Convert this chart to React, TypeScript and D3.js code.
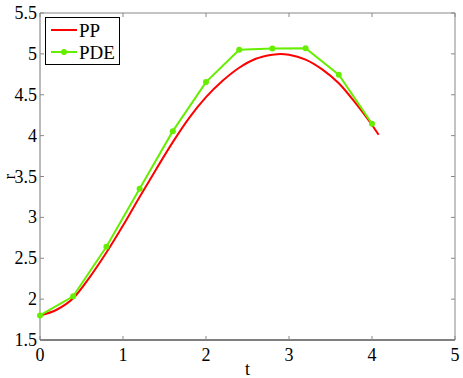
import { useEffect, useRef } from "react";
import * as d3 from "d3";

// PP (continuous curve)
const ppT = [0, 0.2, 0.4, 0.6, 0.8, 1.0, 1.2, 1.4, 1.6, 1.8, 2.0, 2.2, 2.4, 2.6, 2.8, 2.9, 3.0, 3.2, 3.4, 3.6, 3.8, 4.0, 4.08];
const ppR = [1.80, 1.87, 2.01, 2.27, 2.57, 2.90, 3.25, 3.59, 3.92, 4.22, 4.47, 4.67, 4.83, 4.94, 4.99, 5.00, 4.99, 4.93, 4.81, 4.64, 4.40, 4.13, 4.01];

// PDE (markers)
const pdeT = [0, 0.4, 0.8, 1.2, 1.6, 2.0, 2.4, 2.8, 3.2, 3.6, 4.0];
const pdeR = [1.80, 2.035, 2.64, 3.35, 4.055, 4.655, 5.05, 5.065, 5.068, 4.745, 4.145];

const xTicks = [0, 1, 2, 3, 4, 5];
const yTicks = [1.5, 2, 2.5, 3, 3.5, 4, 4.5, 5, 5.5];

const W = 463, H = 378;
const FONT = "'Liberation Serif', 'Times New Roman', serif";
const RED = "#ff0000";
const GREEN = "#66ee00";

export default function App() {
  const svgRef = useRef<SVGSVGElement>(null);

  useEffect(() => {
    const el = svgRef.current;
    if (!el) return;
    const svg = d3.select(el);
    svg.selectAll("*").remove();

    const m = { left: 40, right: 455, top: 13, bottom: 340 };
    const x = d3.scaleLinear().domain([0, 5]).range([m.left, m.right]);
    const y = d3.scaleLinear().domain([1.5, 5.5]).range([m.bottom, m.top]);

    svg.append("rect").attr("width", W).attr("height", H).attr("fill", "#fff");

    // box
    svg.append("line").attr("x1", m.left).attr("x2", m.right).attr("y1", m.top).attr("y2", m.top).attr("stroke", "#888");
    svg.append("line").attr("x1", m.right).attr("x2", m.right).attr("y1", m.top).attr("y2", m.bottom).attr("stroke", "#888");
    svg.append("line").attr("x1", m.left).attr("x2", m.left).attr("y1", m.top).attr("y2", m.bottom).attr("stroke", "#777");
    svg.append("line").attr("x1", m.left).attr("x2", m.right).attr("y1", m.bottom).attr("y2", m.bottom).attr("stroke", "#000");

    // ticks (inward, both sides)
    const tl = 4;
    xTicks.forEach(t => {
      svg.append("line").attr("x1", x(t)).attr("x2", x(t)).attr("y1", m.bottom).attr("y2", m.bottom - tl).attr("stroke", "#888");
      svg.append("line").attr("x1", x(t)).attr("x2", x(t)).attr("y1", m.top).attr("y2", m.top + tl).attr("stroke", "#888");
      svg.append("text").attr("x", x(t)).attr("y", m.bottom + 21)
        .attr("text-anchor", "middle").attr("font-family", FONT).attr("font-size", 18).attr("fill", "#000").text(t);
    });
    yTicks.forEach(t => {
      svg.append("line").attr("x1", m.left).attr("x2", m.left + tl).attr("y1", y(t)).attr("y2", y(t)).attr("stroke", "#888");
      svg.append("line").attr("x1", m.right).attr("x2", m.right - tl).attr("y1", y(t)).attr("y2", y(t)).attr("stroke", "#888");
      svg.append("text").attr("x", m.left - 3).attr("y", y(t) + 6)
        .attr("text-anchor", "end").attr("font-family", FONT).attr("font-size", 18).attr("fill", "#000").text(t);
    });

    // axis labels
    svg.append("text").attr("x", (m.left + m.right) / 2).attr("y", 375)
      .attr("text-anchor", "middle").attr("font-family", FONT).attr("font-size", 18).text("t");
    svg.append("text").attr("transform", `translate(${15},${(m.top + m.bottom) / 2}) rotate(-90)`)
      .attr("text-anchor", "middle").attr("font-family", FONT).attr("font-size", 16).text("r");

    // PP curve
    const pp = d3.range(ppT.length).map(i => [ppT[i], ppR[i]] as [number, number]);
    const line = d3.line<[number, number]>().x(d => x(d[0])).y(d => y(d[1])).curve(d3.curveMonotoneX);
    svg.append("path").datum(pp).attr("fill", "none").attr("stroke", RED).attr("stroke-width", 2).attr("d", line);

    // PDE
    const pde = d3.range(pdeT.length).map(i => [pdeT[i], pdeR[i]] as [number, number]);
    const lin = d3.line<[number, number]>().x(d => x(d[0])).y(d => y(d[1]));
    svg.append("path").datum(pde).attr("fill", "none").attr("stroke", GREEN).attr("stroke-width", 2).attr("d", lin);
    svg.selectAll("circle.pde").data(pde).enter().append("circle")
      .attr("cx", d => x(d[0])).attr("cy", d => y(d[1])).attr("r", 3).attr("fill", GREEN);

    // legend
    const lg = svg.append("g");
    lg.append("rect").attr("x", 45.5).attr("y", 17.5).attr("width", 74).attr("height", 47)
      .attr("fill", "#fff").attr("stroke", "#000");
    const items = [{ name: "PP", c: RED, dot: false }, { name: "PDE", c: GREEN, dot: true }];
    items.forEach((it, i) => {
      const cy = 30 + i * 22;
      lg.append("line").attr("x1", 51).attr("x2", 77).attr("y1", cy).attr("y2", cy).attr("stroke", it.c).attr("stroke-width", 2);
      if (it.dot) lg.append("circle").attr("cx", 64).attr("cy", cy).attr("r", 3).attr("fill", it.c);
      lg.append("text").attr("x", 79).attr("y", cy + 7).attr("font-family", FONT).attr("font-size", 19).text(it.name);
    });
  }, []);

  return (
    <div style={{ position: "absolute", left: 0, top: 0 }}>
      <svg ref={svgRef} width={W} height={H} style={{ display: "block" }} />
    </div>
  );
}
